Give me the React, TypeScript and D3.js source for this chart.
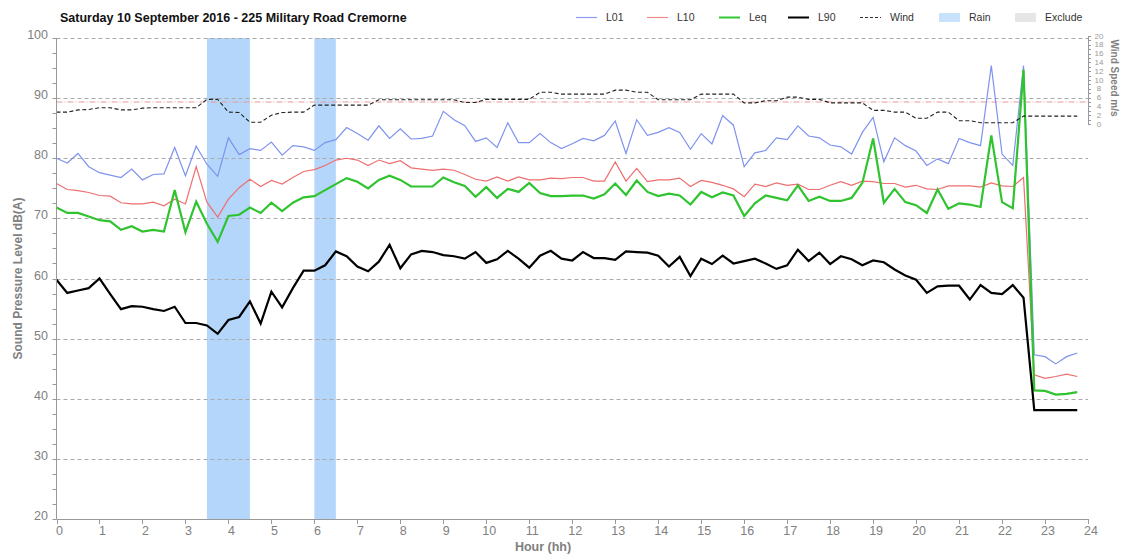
import * as d3 from 'd3';

// 15-minute samples, 0:00 .. 23:45
const L01 = [
  80.0, 79.2, 80.8, 78.6, 77.6, 77.2, 76.8, 78.2, 76.4, 77.3, 77.4, 81.8, 77.1, 82.0, 79.0, 77.0,
  83.4, 80.6, 81.6, 81.3, 82.7, 80.5, 82.1, 81.9, 81.3, 82.6, 83.1, 85.1, 84.1, 83.0, 85.4, 83.3,
  84.9, 83.2, 83.3, 83.7, 87.8, 86.4, 85.4, 82.8, 83.4, 81.8, 85.9, 82.6, 82.6, 84.1, 82.6, 81.6,
  82.4, 83.3, 82.9, 83.8, 86.2, 80.8, 86.4, 83.8, 84.3, 85.1, 84.3, 81.5, 84.1, 82.4, 87.1, 85.5,
  78.6, 80.9, 81.3, 83.4, 83.1, 85.4, 83.7, 83.4, 82.2, 81.9, 80.7, 84.3, 86.8, 79.4, 83.4, 82.1,
  81.2, 78.8, 79.9, 79.1, 83.3, 82.6, 82.1, 95.4, 80.7, 78.8, 95.4, 47.3, 47.0, 45.8, 47.0, 47.6,
];
const L10 = [
  75.8, 74.8, 74.6, 74.3, 73.8, 73.7, 72.6, 72.4, 72.4, 72.7, 72.1, 73.2, 72.4, 78.6, 72.7, 70.2,
  73.2, 75.1, 76.5, 75.3, 76.3, 75.7, 76.8, 77.8, 78.1, 78.8, 79.7, 80.0, 79.7, 78.8, 79.7, 79.1,
  79.6, 78.4, 78.2, 78.0, 78.2, 78.0, 77.3, 76.5, 76.2, 76.9, 76.2, 76.9, 76.4, 76.4, 76.7, 76.6,
  76.8, 76.8, 76.2, 76.2, 79.4, 76.2, 78.3, 76.1, 76.4, 76.4, 76.7, 75.3, 76.3, 76.0, 75.5, 74.9,
  73.6, 75.7, 75.3, 75.9, 75.5, 75.7, 74.8, 74.8, 75.5, 76.1, 75.5, 76.2, 76.1, 75.8, 75.8, 75.2,
  75.5, 74.9, 74.8, 75.4, 75.4, 75.4, 75.2, 75.9, 75.4, 75.3, 76.8, 44.0, 43.4, 43.7, 44.1, 43.7,
];
const LEQ = [
  71.8, 70.9, 70.9, 70.3, 69.7, 69.5, 68.1, 68.7, 67.8, 68.1, 67.8, 74.7, 67.7, 72.8, 69.1, 66.1,
  70.4, 70.6, 71.8, 70.9, 72.6, 71.2, 72.6, 73.5, 73.7, 74.7, 75.7, 76.7, 76.1, 75.0, 76.4, 77.1,
  76.4, 75.3, 75.3, 75.3, 76.8, 76.0, 75.4, 73.6, 75.2, 73.4, 74.9, 74.4, 75.9, 74.2, 73.7, 73.7,
  73.8, 73.8, 73.3, 74.0, 75.8, 73.9, 76.3, 74.4, 73.7, 74.1, 73.8, 72.3, 74.4, 73.5, 74.3, 73.8,
  70.4, 72.5, 73.8, 73.4, 73.0, 75.5, 72.9, 73.6, 72.9, 72.9, 73.4, 75.9, 83.3, 72.6, 74.9, 72.7,
  72.2, 70.9, 74.8, 71.6, 72.5, 72.3, 71.9, 83.8, 72.7, 71.7, 94.7, 41.4, 41.3, 40.7, 40.8, 41.1,
];
const L90 = [
  59.8, 57.6, 58.0, 58.4, 60.0, 57.4, 54.9, 55.4, 55.3, 54.9, 54.6, 55.3, 52.6, 52.6, 52.2, 50.8,
  53.1, 53.6, 56.2, 52.5, 57.8, 55.2, 58.4, 61.3, 61.3, 62.2, 64.5, 63.7, 62.0, 61.2, 62.8, 65.6,
  61.7, 64.0, 64.6, 64.4, 63.9, 63.7, 63.3, 64.4, 62.6, 63.2, 64.6, 63.3, 61.8, 63.8, 64.6, 63.3,
  63.0, 64.4, 63.4, 63.4, 63.1, 64.5, 64.4, 64.3, 63.8, 62.0, 63.6, 60.4, 63.3, 62.4, 63.8, 62.5,
  62.9, 63.3, 62.5, 61.6, 62.2, 64.8, 62.9, 64.3, 62.4, 63.7, 63.2, 62.2, 63.0, 62.7, 61.5, 60.5,
  59.8, 57.6, 58.7, 58.8, 58.8, 56.5, 58.9, 57.6, 57.4, 58.9, 56.8, 38.1, 38.1, 38.1, 38.1, 38.1,
];
const WIND = [
  2.7, 2.7, 3.2, 3.3, 3.7, 3.7, 3.2, 3.2, 3.6, 3.7, 3.7, 3.7, 3.7, 3.7, 5.6, 5.6,
  2.7, 2.6, 0.4, 0.4, 2.0, 2.6, 2.7, 2.7, 4.3, 4.3, 4.3, 4.3, 4.3, 4.3, 5.5, 5.5,
  5.5, 5.5, 5.5, 5.5, 5.5, 5.5, 4.9, 4.9, 5.6, 5.6, 5.6, 5.6, 5.6, 7.2, 7.2, 6.8,
  6.8, 6.8, 6.8, 6.8, 7.7, 7.7, 7.2, 7.2, 5.5, 5.5, 5.5, 5.5, 6.8, 6.8, 6.8, 6.8,
  4.8, 4.8, 5.3, 5.3, 6.1, 6.1, 5.6, 5.6, 4.8, 4.8, 4.8, 4.8, 3.1, 3.1, 2.7, 2.7,
  1.3, 1.3, 2.7, 2.7, 0.75, 0.75, 0.3, 0.3, 0.3, 0.3, 1.8, 1.8, 1.8, 1.8, 1.8, 1.8,
];
const STEP_HOURS = 0.25;

const RAIN_START = [3.5, 6];
const RAIN_END = [4.5, 6.5];
const WIND_LIMIT = 5;

const HOUR_TICKS = d3.range(0, 25);
const DB_TICKS = [20, 30, 40, 50, 60, 70, 80, 90, 100];
const WIND_TICKS = [0, 2, 4, 6, 8, 10, 12, 14, 16, 18, 20];

const LEGEND = [
  { name: 'L01', kind: 'line', color: '#8b9cf0', x: 576 },
  { name: 'L10', kind: 'line', color: '#f08a8a', x: 647 },
  { name: 'Leq', kind: 'line', color: '#33c833', x: 719 },
  { name: 'L90', kind: 'line', color: '#000000', x: 788 },
  { name: 'Wind', kind: 'dash', color: '#333333', x: 860 },
  { name: 'Rain', kind: 'box', color: '#c9e2fb', x: 939 },
  { name: 'Exclude', kind: 'box', color: '#e6e6e6', x: 1015 },
];

const FONT = '"Liberation Sans", Arial, sans-serif';

export default function App() {
  const x = d3.scaleLinear().domain([0, 24]).range([56.5, 1088]);
  const y = d3.scaleLinear().domain([20, 100]).range([519, 38]);
  const yw = d3.scaleLinear().domain([0, 20]).range([124, 36]);

  const line = (vals: number[], sc: d3.ScaleLinear<number, number>) =>
    d3.line<number>()
      .x((_, i) => x(i * STEP_HOURS))
      .y(d => sc(d))(vals) || '';

  const left = x(0), right = x(24), top = y(100), bottom = y(20);

  return (
    <svg width={1124} height={556} style={{ position: 'absolute', left: 0, top: 0, background: '#fff' }} fontFamily={FONT}>
      {/* title */}
      <text x={60} y={22} fontSize={12.5} fontWeight="bold" fill="#111">
        Saturday 10 September 2016 - 225 Military Road Cremorne
      </text>

      {/* legend */}
      {LEGEND.map(l => (
        <g key={l.name}>
          {l.kind === 'line' && (
            <line x1={l.x} x2={l.x + 21} y1={17.5} y2={17.5} stroke={l.color} strokeWidth={l.name === 'Leq' || l.name === 'L90' ? 2 : 1.2} />
          )}
          {l.kind === 'dash' && (
            <line x1={l.x} x2={l.x + 21} y1={17.5} y2={17.5} stroke={l.color} strokeWidth={1} strokeDasharray="3,2" />
          )}
          {l.kind === 'box' && <rect x={l.x} y={13} width={21} height={9} fill={l.color} />}
          <text x={l.x + 30} y={21} fontSize={10.5} fill="#333">{l.name}</text>
        </g>
      ))}

      {/* rain bands */}
      {RAIN_START.map((s, i) => (
        <rect key={i} x={x(s)} y={top} width={x(RAIN_END[i]) - x(s)} height={bottom - top} fill="#b3d6fa" />
      ))}

      {/* grid */}
      {DB_TICKS.filter(t => t > 20).map(t => (
        <line key={t} x1={left} x2={right} y1={Math.round(y(t)) + 0.5} y2={Math.round(y(t)) + 0.5}
          stroke="#aaaaaa" strokeDasharray="4,3" />
      ))}
      {/* wind limit */}
      <line x1={left} x2={right} y1={yw(WIND_LIMIT)} y2={yw(WIND_LIMIT)} stroke="#e79a9a" strokeDasharray="6,2,1,2" />

      {/* series */}
      <path d={line(L01, y)} fill="none" stroke="#7f93ee" strokeWidth={1.2} />
      <path d={line(L10, y)} fill="none" stroke="#ef6f6f" strokeWidth={1.2} />
      <path d={line(LEQ, y)} fill="none" stroke="#2fc42f" strokeWidth={2.2} />
      <path d={line(L90, y)} fill="none" stroke="#000" strokeWidth={2.2} />
      <path d={line(WIND, yw)} fill="none" stroke="#222" strokeWidth={1.1} strokeDasharray="4,2.5" />

      {/* left axis */}
      <line x1={left} x2={left} y1={top} y2={bottom} stroke="#999" />
      {d3.range(20, 100.1, 2.5).map(t => (
        <line key={t} x1={left - 4} x2={left} y1={Math.round(y(t)) + 0.5} y2={Math.round(y(t)) + 0.5} stroke="#999" />
      ))}
      {DB_TICKS.map(t => (
        <text key={t} x={48} y={y(t) + 1} textAnchor="end" fontSize={12.5} fill="#808080">{t}</text>
      ))}
      <text transform={`translate(22,${(top + bottom) / 2}) rotate(-90)`} textAnchor="middle" fontSize={12}
        fontWeight="bold" fill="#808080">Sound Pressure Level dB(A)</text>

      {/* bottom axis */}
      <line x1={left} x2={right} y1={bottom + 0.5} y2={bottom + 0.5} stroke="#999" />
      {HOUR_TICKS.map(h => (
        <g key={h}>
          <line x1={Math.round(x(h)) + 0.5} x2={Math.round(x(h)) + 0.5} y1={bottom} y2={bottom + 5} stroke="#999" />
          <text x={x(h) + 3} y={bottom + 16} textAnchor="middle" fontSize={12.5} fill="#808080">{h}</text>
        </g>
      ))}
      <text x={543} y={551} textAnchor="middle" fontSize={12.5} fontWeight="bold" fill="#808080">Hour (hh)</text>

      {/* wind axis */}
      <line x1={right + 0.5} x2={right + 0.5} y1={yw(20)} y2={yw(0)} stroke="#999" />
      {d3.range(0, 21).map(t => (
        <line key={t} x1={right} x2={right + 3} y1={Math.round(yw(t)) + 0.5} y2={Math.round(yw(t)) + 0.5} stroke="#999" />
      ))}
      {WIND_TICKS.map(t => (
        <text key={t} x={1099} y={yw(t) + 2.5} textAnchor="middle" fontSize={8} fill="#999">{t}</text>
      ))}
      <text transform={`translate(1111,${(yw(0) + yw(20)) / 2 - 2}) rotate(90)`} textAnchor="middle" fontSize={10}
        fontWeight="bold" fill="#808080">Wind Speed m/s</text>
    </svg>
  );
}
